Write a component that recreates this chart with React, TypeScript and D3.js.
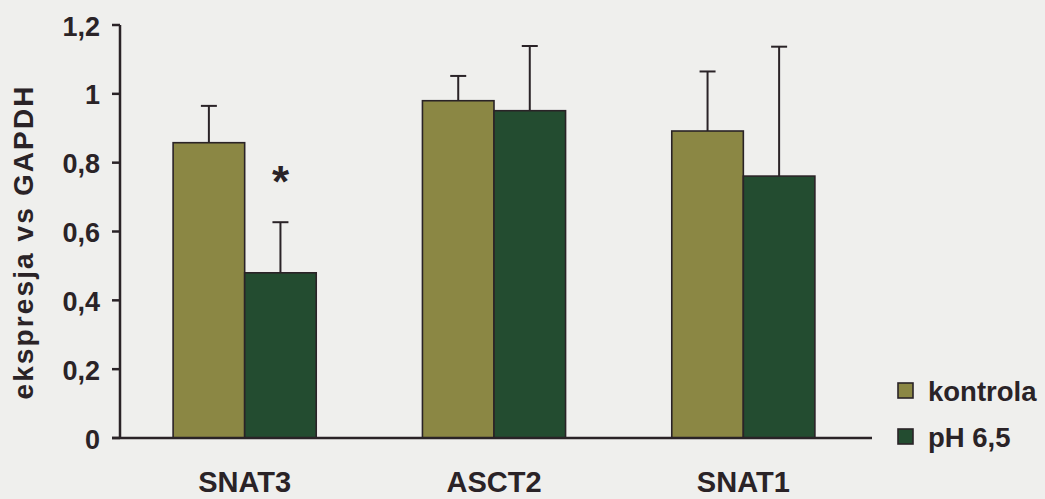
import React from "react";
import * as d3 from "d3";

const categories = ["SNAT3", "ASCT2", "SNAT1"];
const seriesNames = ["kontrola", "pH 6,5"];
const kontrolaValues = [0.858, 0.98, 0.892];
const kontrolaErrors = [0.107, 0.072, 0.173];
const phValues = [0.48, 0.951, 0.761];
const phErrors = [0.147, 0.188, 0.376];
const kontrolaSignificant = [false, false, false];
const phSignificant = [true, false, false];
const yTicks = [0, 0.2, 0.4, 0.6, 0.8, 1, 1.2];
const yLabel = "ekspresja vs GAPDH";

const W = 1045;
const H = 499;
const colors = ["#8b8744", "#234c30"];
const ink = "#2a2327";
const bg = "#efefed";

export default function App() {
  const x = d3
    .scaleBand<string>()
    .domain(categories)
    .range([120, 868])
    .paddingInner(0.426)
    .paddingOuter(0.213);
  const x1 = d3
    .scaleBand<string>()
    .domain(seriesNames)
    .range([0, x.bandwidth()]);
  const y = d3.scaleLinear().domain([0, 1.2]).range([438, 25]);
  const fmt = (v: number) => String(v).replace(".", ",");

  const series = [
    { name: seriesNames[0], values: kontrolaValues, errors: kontrolaErrors, sig: kontrolaSignificant },
    { name: seriesNames[1], values: phValues, errors: phErrors, sig: phSignificant },
  ];

  const font = "Arial, 'Liberation Sans', Helvetica, sans-serif";

  return (
    <svg
      width={W}
      height={H}
      style={{ position: "absolute", left: 0, top: 0, display: "block" }}
      fontFamily={font}
      fontWeight="bold"
    >
      <rect x={0} y={0} width={W} height={H} fill={bg} />
      {series.map((s, si) =>
        categories.map((c, ci) => {
          const bx = (x(c) ?? 0) + (x1(s.name) ?? 0);
          const bw = x1.bandwidth();
          const v = s.values[ci];
          const e = s.errors[ci];
          const cx = bx + bw / 2;
          return (
            <g key={`${si}-${ci}`}>
              <line x1={cx} x2={cx} y1={y(v)} y2={y(v + e)} stroke={ink} strokeWidth={2} />
              <line x1={cx - 8} x2={cx + 8} y1={y(v + e)} y2={y(v + e)} stroke={ink} strokeWidth={2} />
              <rect
                x={bx}
                y={y(v)}
                width={bw}
                height={y(0) - y(v)}
                fill={colors[si]}
                stroke={ink}
                strokeWidth={1.6}
              />
              {s.sig[ci] && (
                <text x={cx} y={y(v + e) - 25} textAnchor="middle" fontSize={44} fill={ink}>
                  *
                </text>
              )}
            </g>
          );
        })
      )}
      <line x1={120} x2={120} y1={y(1.2)} y2={y(0)} stroke={ink} strokeWidth={2.5} />
      {yTicks.map((t) => (
        <g key={t}>
          <line x1={112} x2={120} y1={y(t)} y2={y(t)} stroke={ink} strokeWidth={2.5} />
          <text x={100} y={y(t) + 10.5} textAnchor="end" fontSize={27} fill={ink}>
            {fmt(t)}
          </text>
        </g>
      ))}
      <line x1={112} x2={872} y1={y(0)} y2={y(0)} stroke={ink} strokeWidth={2.5} />
      {categories.map((c) => (
        <text
          key={c}
          x={(x(c) ?? 0) + x.bandwidth() / 2}
          y={492}
          textAnchor="middle"
          fontSize={29}
          fill={ink}
        >
          {c}
        </text>
      ))}
      <text
        transform={`translate(33,243) rotate(-90)`}
        textAnchor="middle"
        fontSize={28}
        fill={ink}
        textLength={313}
        lengthAdjust="spacing"
      >
        {yLabel}
      </text>
      {seriesNames.map((n, i) => (
        <g key={n} transform={`translate(898,${383 + i * 46})`}>
          <rect x={0} y={0} width={15} height={15} fill={colors[i]} stroke={ink} strokeWidth={1.6} />
          <text x={30} y={18} fontSize={27.5} fill={ink}>
            {n}
          </text>
        </g>
      ))}
    </svg>
  );
}
